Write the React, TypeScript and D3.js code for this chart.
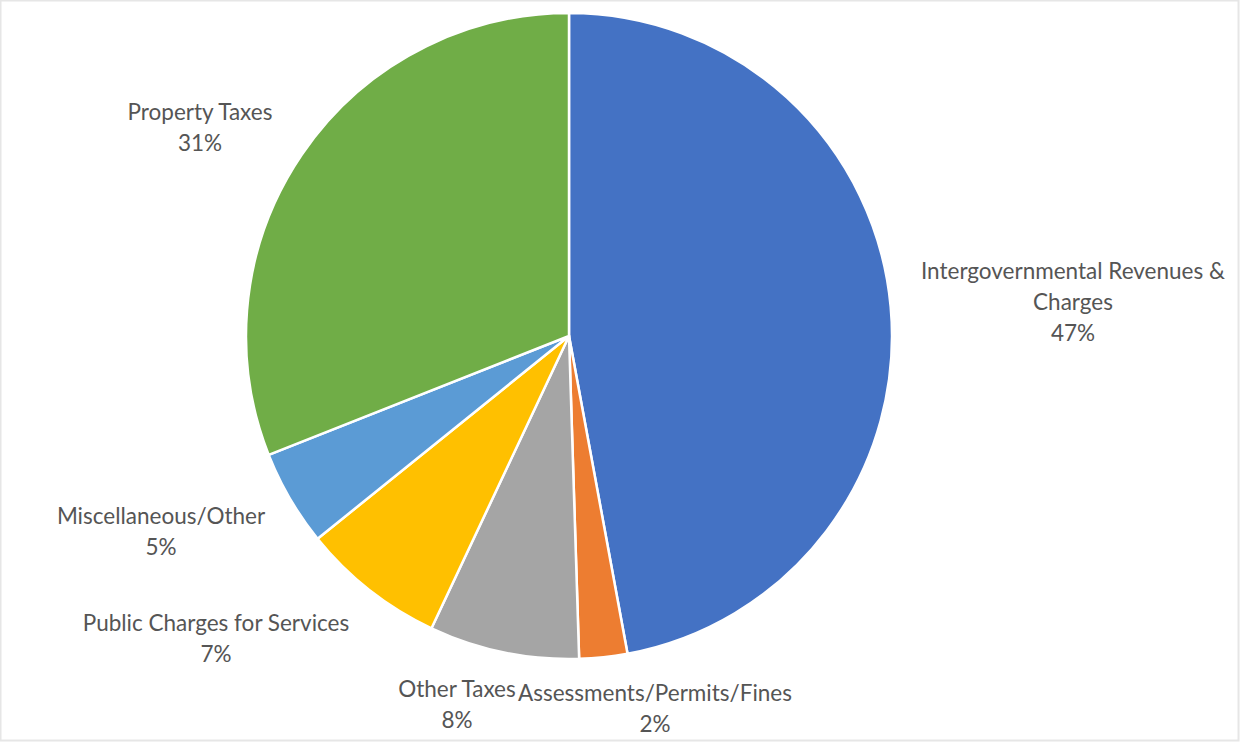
import React from "react";
import * as d3 from "d3";

const categories = [
  "Intergovernmental Revenues & Charges",
  "Assessments/Permits/Fines",
  "Other Taxes",
  "Public Charges for Services",
  "Miscellaneous/Other",
  "Property Taxes",
];
const values = [47.1, 2.4, 7.5, 7.2, 4.8, 31.0];
const percentLabels = ["47%", "2%", "8%", "7%", "5%", "31%"];
const colors = ["#4472C4", "#ED7D31", "#A5A5A5", "#FFC000", "#5B9BD5", "#70AD47"];

// label layout: lines and anchor centers
const labelLines = [
  ["Intergovernmental Revenues &", "Charges"],
  ["Assessments/Permits/Fines"],
  ["Other Taxes"],
  ["Public Charges for Services"],
  ["Miscellaneous/Other"],
  ["Property Taxes"],
];
const labelPos = [
  [1073, 270],
  [655, 692],
  [457, 688],
  [216, 622],
  [161, 515],
  [200, 111],
];

const W = 1241;
const H = 743;
const cx = 569;
const cy = 336;
const R = 323;

export default function App() {
  const pie = d3.pie<number>().sort(null).value((d) => d);
  const arcs = pie(values);
  const arc = d3.arc<d3.PieArcDatum<number>>().innerRadius(0).outerRadius(R);
  const lineH = 31;
  return (
    <div style={{ position: "fixed", left: 0, top: 0 }}>
      <svg width={W} height={H} style={{ display: "block", background: "#fff" }}>
        <rect x={0.5} y={0.5} width={W - 3} height={H - 3} fill="#fff" stroke="#e6e6e6" strokeWidth={2} />
        <g transform={`translate(${cx},${cy})`}>
          {arcs.map((a, i) => (
            <path key={i} d={arc(a) || ""} fill={colors[i]} stroke="#fff" strokeWidth={2.5} strokeLinejoin="round" />
          ))}
        </g>
        <g fontFamily="Lato, 'Open Sans', sans-serif" fontSize={22.5} fill="#555555" textAnchor="middle">
          {categories.map((c, i) => {
            const [x, y] = labelPos[i];
            const lines = [...labelLines[i], percentLabels[i]];
            return (
              <text key={c} x={x} y={y} dominantBaseline="central">
                {lines.map((l, j) => (
                  <tspan key={j} x={x} y={y + j * lineH}>
                    {l}
                  </tspan>
                ))}
              </text>
            );
          })}
        </g>
      </svg>
    </div>
  );
}
